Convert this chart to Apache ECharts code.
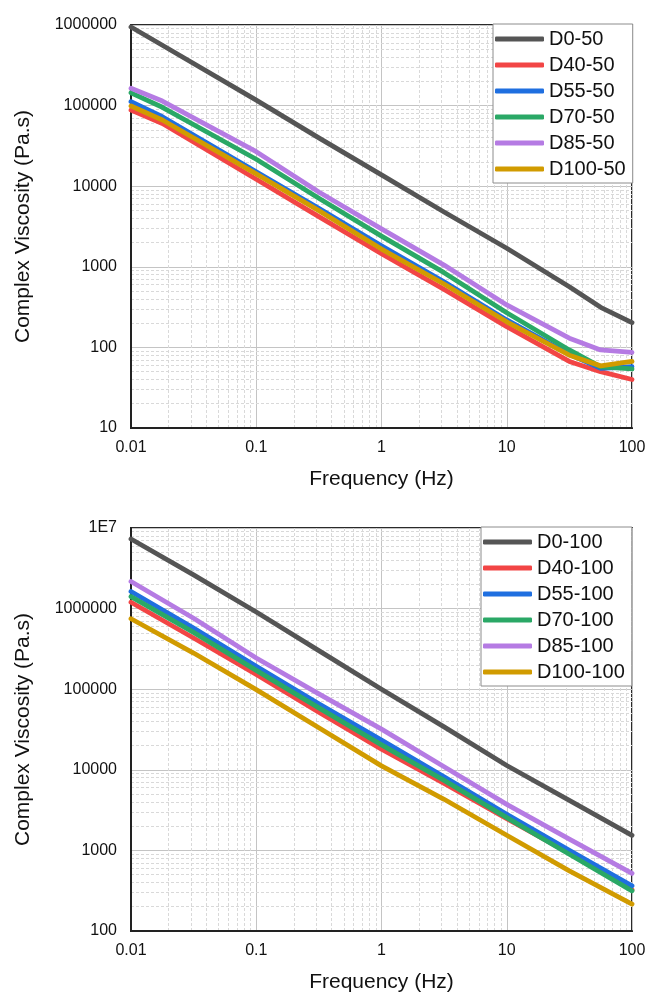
<!DOCTYPE html>
<html>
<head>
<meta charset="utf-8">
<script src="https://cdn.jsdelivr.net/npm/echarts@6/dist/echarts.min.js"></script>
<style>
  html, body { margin: 0; padding: 0; background: #fff; }
  #chart { width: 649px; height: 994px; }
</style>
</head>
<body>
<div id="chart"></div>
<script>
// Frequency sweeps (Hz)
const freqTop = [0.01, 0.0178, 0.1, 0.316, 1, 3.16, 10, 31.6, 56.2, 100];
const freqBottom = [0.01, 0.0316, 0.1, 0.316, 1, 3.16, 10, 31.6, 100];

// Complex viscosity (Pa.s), 50 series
const namesTop = ['D0-50', 'D40-50', 'D55-50', 'D70-50', 'D85-50', 'D100-50'];
const d0_50   = [945000, 561000, 117000, 39800, 13800, 4790, 1700, 566, 314, 203];
const d40_50  = [88000, 60000, 12200, 4190, 1450, 525, 181, 67, 50, 40];
const d55_50  = [112000, 72800, 15100, 5320, 1820, 653, 219, 82, 55, 57.5];
const d70_50  = [144000, 95300, 21600, 7080, 2400, 845, 269, 93, 57.5, 54];
const d85_50  = [164000, 114000, 26800, 8470, 2950, 1050, 336, 130, 93, 87];
const d100_50 = [99000, 66200, 14200, 4970, 1660, 612, 208, 80, 59, 67];

// Complex viscosity (Pa.s), 100 series
const namesBottom = ['D0-100', 'D40-100', 'D55-100', 'D70-100', 'D85-100', 'D100-100'];
const d0_100   = [7310000, 2620000, 906000, 301000, 100000, 34100, 11300, 4180, 1540];
const d40_100  = [1200000, 432000, 152000, 51800, 18000, 6790, 2480, 923, 324];
const d55_100  = [1630000, 574000, 192000, 65800, 23400, 8200, 2810, 1000, 363];
const d70_100  = [1410000, 507000, 171000, 58600, 20400, 7400, 2550, 897, 315];
const d85_100  = [2170000, 759000, 244000, 87500, 32000, 10900, 3730, 1380, 518];
const d100_100 = [748000, 281000, 98900, 33200, 11200, 4310, 1540, 557, 216];

// Axis ranges
const xRange = [0.01, 100];
const yRangeTop = [10, 1000000];
const yRangeBottom = [100, 10000000];

const colors = ['#555555', '#f24545', '#1f6fe0', '#2aa866', '#b57be3', '#d19b00'];
const FONT = 'Liberation Sans, Arial, sans-serif';

// Minor (2..9) positions inside each decade of a range
function minorValues(lo, hi) {
  const out = [];
  for (let d = lo; d < hi * 0.999; d *= 10) {
    for (let k = 2; k <= 9; k++) out.push(Number((k * d).toPrecision(6)));
  }
  return out;
}

function fmtNum(v) {
  const n = Number(v.toPrecision(6));
  if (n >= 1e7) return '1E' + Math.round(Math.log10(n));
  return String(n);
}

function makeAxes(gridIndex, yRange) {
  const x = {
    type: 'log', logBase: 10, gridIndex: gridIndex,
    min: xRange[0], max: xRange[1],
    name: 'Frequency (Hz)', nameLocation: 'middle', nameGap: 41,
    nameTextStyle: { fontFamily: FONT, fontSize: 21, color: '#111' },
    axisLine: { show: true, onZero: false, lineStyle: { color: '#222', width: 2 } },
    axisTick: { show: false },
    axisLabel: { fontFamily: FONT, fontSize: 16, color: '#111', margin: 12, formatter: fmtNum },
    splitLine: { show: true, lineStyle: { color: '#c4c4c4', width: 1 } }
  };
  const y = {
    type: 'log', logBase: 10, gridIndex: gridIndex,
    min: yRange[0], max: yRange[1],
    name: 'Complex Viscosity (Pa.s)', nameLocation: 'middle', nameGap: 97, nameRotate: 90,
    nameTextStyle: { fontFamily: FONT, fontSize: 21, color: '#111' },
    axisLine: { show: true, onZero: false, lineStyle: { color: '#222', width: 2 } },
    axisTick: { show: false },
    axisLabel: { fontFamily: FONT, fontSize: 16, color: '#111', margin: 14, formatter: fmtNum },
    splitLine: { show: true, lineStyle: { color: '#c4c4c4', width: 1 } }
  };
  return { x, y };
}

// Dashed minor grid lines drawn beneath the data curves
function minorGridSeries(idx, yRange) {
  const data = [];
  minorValues(xRange[0], xRange[1]).forEach(v => data.push({ xAxis: v }));
  minorValues(yRange[0], yRange[1]).forEach(v => data.push({ yAxis: v }));
  return {
    type: 'line', name: 'minor-grid-' + idx, xAxisIndex: idx, yAxisIndex: idx,
    data: [], silent: true, z: 0,
    markLine: {
      silent: true, symbol: ['none', 'none'], animation: false, z: 0,
      label: { show: false },
      lineStyle: { color: '#d9d9d9', width: 1, type: [3, 2] },
      emphasis: { disabled: true },
      data: data
    }
  };
}

function lineSeries(idx, name, freq, vals, color) {
  return {
    type: 'line', name: name, xAxisIndex: idx, yAxisIndex: idx,
    data: freq.map((f, i) => [f, vals[i]]),
    showSymbol: false, symbol: 'none', smooth: false, z: 3,
    lineStyle: { color: color, width: 4.8, cap: 'round', join: 'round' },
    itemStyle: { color: color },
    emphasis: { disabled: true },
    animation: false
  };
}

function makeLegend(names, left, top) {
  return {
    data: names, orient: 'vertical', left: left, top: top,
    backgroundColor: '#fff', borderColor: '#8c8c8c', borderWidth: 1, borderRadius: 0,
    padding: [5, 7, 4, 2], itemGap: 6, itemWidth: 49, itemHeight: 5,
    icon: 'roundRect',
    textStyle: { fontFamily: FONT, fontSize: 20, color: '#111' },
    selectedMode: false, z: 10
  };
}

const axTop = makeAxes(0, yRangeTop);
const axBottom = makeAxes(1, yRangeBottom);

const topSets = [d0_50, d40_50, d55_50, d70_50, d85_50, d100_50];
const bottomSets = [d0_100, d40_100, d55_100, d70_100, d85_100, d100_100];

const series = [minorGridSeries(0, yRangeTop), minorGridSeries(1, yRangeBottom)];
topSets.forEach((v, i) => series.push(lineSeries(0, namesTop[i], freqTop, v, colors[i])));
bottomSets.forEach((v, i) => series.push(lineSeries(1, namesBottom[i], freqBottom, v, colors[i])));

const chart = echarts.init(document.getElementById('chart'), null, { renderer: 'canvas' });
chart.setOption({
  animation: false,
  backgroundColor: '#fff',
  grid: [
    { left: 131, top: 25, width: 501, height: 403, show: true, borderColor: '#2a2a2a', borderWidth: 2, backgroundColor: 'transparent' },
    { left: 131, top: 528, width: 501, height: 404, show: true, borderColor: '#2a2a2a', borderWidth: 2, backgroundColor: 'transparent' }
  ],
  xAxis: [axTop.x, axBottom.x],
  yAxis: [axTop.y, axBottom.y],
  legend: [makeLegend(namesTop, 493, 24), makeLegend(namesBottom, 481, 527)],
  series: series
});
</script>
</body>
</html>
